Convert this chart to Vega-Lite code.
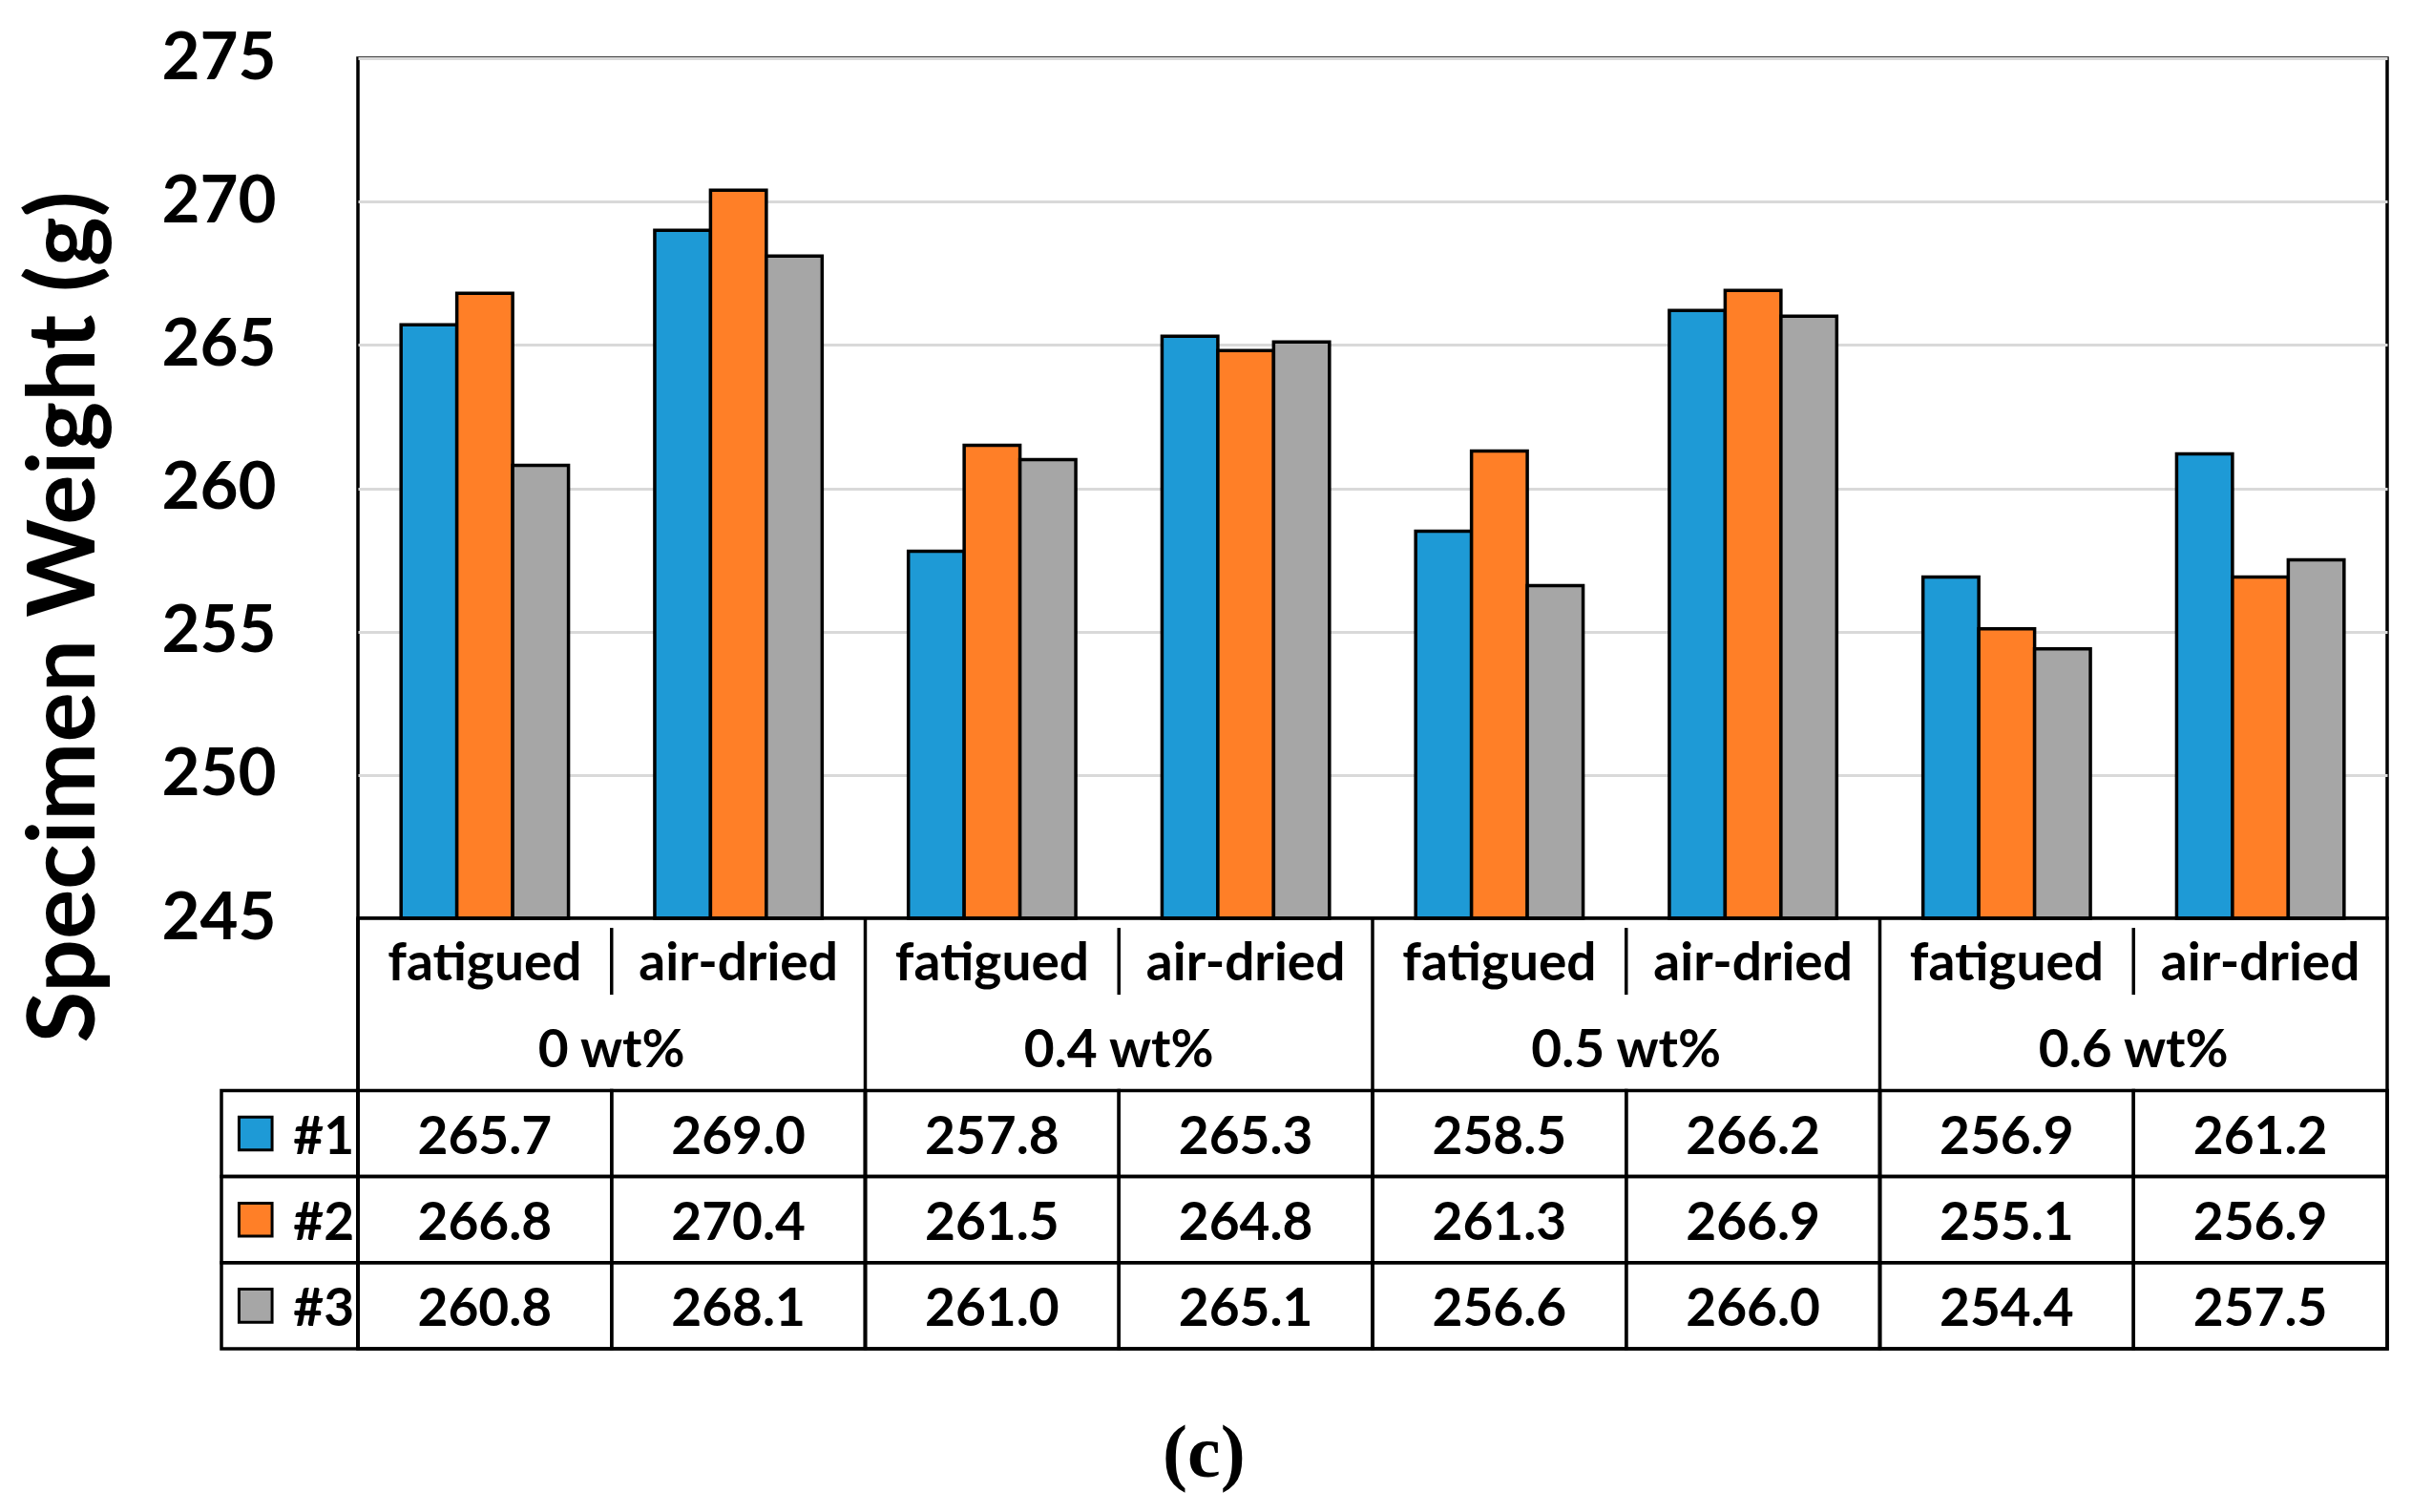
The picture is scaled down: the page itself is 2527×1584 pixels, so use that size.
{
  "$schema": "https://vega.github.io/schema/vega-lite/v6.json",
  "background": "white",
  "padding": {"left": 18, "top": 25, "right": 17, "bottom": 20},
  "config": {
    "font": "Lato",
    "view": {"stroke": "black", "strokeWidth": 3.5}
  },
  "datasets": {
    "w": [
      {"grp": "0 wt%", "cond": "fatigued", "col": "0 wt% fatigued", "s": "#1", "w": 265.7},
      {"grp": "0 wt%", "cond": "fatigued", "col": "0 wt% fatigued", "s": "#2", "w": 266.8},
      {"grp": "0 wt%", "cond": "fatigued", "col": "0 wt% fatigued", "s": "#3", "w": 260.8},
      {"grp": "0 wt%", "cond": "air-dried", "col": "0 wt% air-dried", "s": "#1", "w": 269.0},
      {"grp": "0 wt%", "cond": "air-dried", "col": "0 wt% air-dried", "s": "#2", "w": 270.4},
      {"grp": "0 wt%", "cond": "air-dried", "col": "0 wt% air-dried", "s": "#3", "w": 268.1},
      {"grp": "0.4 wt%", "cond": "fatigued", "col": "0.4 wt% fatigued", "s": "#1", "w": 257.8},
      {"grp": "0.4 wt%", "cond": "fatigued", "col": "0.4 wt% fatigued", "s": "#2", "w": 261.5},
      {"grp": "0.4 wt%", "cond": "fatigued", "col": "0.4 wt% fatigued", "s": "#3", "w": 261.0},
      {"grp": "0.4 wt%", "cond": "air-dried", "col": "0.4 wt% air-dried", "s": "#1", "w": 265.3},
      {"grp": "0.4 wt%", "cond": "air-dried", "col": "0.4 wt% air-dried", "s": "#2", "w": 264.8},
      {"grp": "0.4 wt%", "cond": "air-dried", "col": "0.4 wt% air-dried", "s": "#3", "w": 265.1},
      {"grp": "0.5 wt%", "cond": "fatigued", "col": "0.5 wt% fatigued", "s": "#1", "w": 258.5},
      {"grp": "0.5 wt%", "cond": "fatigued", "col": "0.5 wt% fatigued", "s": "#2", "w": 261.3},
      {"grp": "0.5 wt%", "cond": "fatigued", "col": "0.5 wt% fatigued", "s": "#3", "w": 256.6},
      {"grp": "0.5 wt%", "cond": "air-dried", "col": "0.5 wt% air-dried", "s": "#1", "w": 266.2},
      {"grp": "0.5 wt%", "cond": "air-dried", "col": "0.5 wt% air-dried", "s": "#2", "w": 266.9},
      {"grp": "0.5 wt%", "cond": "air-dried", "col": "0.5 wt% air-dried", "s": "#3", "w": 266.0},
      {"grp": "0.6 wt%", "cond": "fatigued", "col": "0.6 wt% fatigued", "s": "#1", "w": 256.9},
      {"grp": "0.6 wt%", "cond": "fatigued", "col": "0.6 wt% fatigued", "s": "#2", "w": 255.1},
      {"grp": "0.6 wt%", "cond": "fatigued", "col": "0.6 wt% fatigued", "s": "#3", "w": 254.4},
      {"grp": "0.6 wt%", "cond": "air-dried", "col": "0.6 wt% air-dried", "s": "#1", "w": 261.2},
      {"grp": "0.6 wt%", "cond": "air-dried", "col": "0.6 wt% air-dried", "s": "#2", "w": 256.9},
      {"grp": "0.6 wt%", "cond": "air-dried", "col": "0.6 wt% air-dried", "s": "#3", "w": 257.5}
    ],
    "specs": [{"s": "#1"}, {"s": "#2"}, {"s": "#3"}]
  },
  "title": {
    "text": "(c)",
    "orient": "bottom",
    "anchor": "middle",
    "font": "Liberation Serif",
    "fontSize": 78,
    "fontWeight": "bold",
    "color": "black",
    "offset": 68
  },
  "bounds": "flush",
  "spacing": 0,
  "vconcat": [
    {
      "width": 2126,
      "height": 901,
      "data": {"name": "w"},
      "mark": {"type": "bar", "stroke": "black", "strokeWidth": 3.5},
      "encoding": {
        "x": {
          "field": "col", "type": "nominal",
          "scale": {
            "domain": ["0 wt% fatigued", "0 wt% air-dried", "0.4 wt% fatigued", "0.4 wt% air-dried", "0.5 wt% fatigued", "0.5 wt% air-dried", "0.6 wt% fatigued", "0.6 wt% air-dried"],
            "paddingInner": 0.34, "paddingOuter": 0.17
          },
          "axis": null
        },
        "xOffset": {
          "field": "s", "type": "nominal",
          "scale": {"domain": ["#1", "#2", "#3"], "range": [0, 175.4], "paddingInner": 0, "paddingOuter": 0}
        },
        "y": {
          "field": "w", "type": "quantitative",
          "scale": {"domain": [245, 275], "zero": false, "nice": false},
          "axis": {
            "title": "Specimen Weight (g)",
            "values": [245, 250, 255, 260, 265, 270, 275],
            "grid": true, "gridColor": "#D9D9D9", "gridWidth": 3,
            "domain": false, "ticks": false, "tickSize": 0,
            "labelPadding": 86, "labelFlush": false, "labelOverlap": false, "labelBound": false,
            "labelFont": "Lato", "labelFontSize": 69, "labelFontWeight": "bold", "labelColor": "black",
            "titleFont": "Lato", "titleFontSize": 98, "titleFontWeight": "bold", "titleColor": "black",
            "titlePadding": 56, "titleY": 585
          }
        },
        "y2": {"datum": 245},
        "color": {
          "field": "s", "type": "nominal",
          "scale": {"domain": ["#1", "#2", "#3"], "range": ["#1E9AD6", "#FF7F27", "#A6A6A6"]},
          "legend": null
        }
      }
    },
    {
      "width": 2126,
      "height": 451,
      "resolve": {"scale": {"x": "independent"}},
      "layer": [
        {
          "data": {"name": "w"},
          "encoding": {
            "x": {
              "field": "col", "type": "nominal",
              "scale": {
                "domain": ["0 wt% fatigued", "0 wt% air-dried", "0.4 wt% fatigued", "0.4 wt% air-dried", "0.5 wt% fatigued", "0.5 wt% air-dried", "0.6 wt% fatigued", "0.6 wt% air-dried"],
                "paddingInner": 0, "paddingOuter": 0
              },
              "axis": null
            }
          },
          "layer": [
            {
              "mark": {"type": "rect", "fill": "transparent", "stroke": "black", "strokeWidth": 3.5},
              "encoding": {
                "y": {"field": "s", "type": "nominal", "scale": {"domain": ["cat", "grp", "#1", "#2", "#3"], "paddingInner": 0, "paddingOuter": 0}, "axis": null}
              }
            },
            {
              "transform": [{"filter": "datum.s == '#1' && datum.cond == 'fatigued'"}],
              "mark": {"type": "rule", "stroke": "black", "strokeWidth": 3.5},
              "encoding": {
                "x": {"field": "col", "type": "nominal", "bandPosition": 0}
              }
            },
            {
              "transform": [{"filter": "datum.s == '#1' && datum.cond == 'air-dried'"}],
              "mark": {"type": "tick", "orient": "vertical", "color": "black", "thickness": 3.5, "size": 70, "opacity": 1},
              "encoding": {
                "x": {"field": "col", "type": "nominal", "bandPosition": 0},
                "y": {"datum": "cat", "type": "nominal", "bandPosition": 0.386}
              }
            },
            {
              "mark": {"type": "text", "fontSize": 55, "fontWeight": "bold", "color": "black", "dy": 4},
              "encoding": {
                "y": {"field": "s", "type": "nominal"},
                "text": {"field": "w", "type": "quantitative", "format": ".1f"}
              }
            },
            {
              "transform": [{"filter": "datum.s == '#1'"}],
              "mark": {"type": "text", "fontSize": 55, "fontWeight": "bold", "color": "black", "dy": 3},
              "encoding": {
                "y": {"datum": "cat", "type": "nominal"},
                "text": {"field": "cond", "type": "nominal"}
              }
            },
            {
              "transform": [{"filter": "datum.s == '#1' && datum.cond == 'fatigued'"}],
              "mark": {"type": "text", "fontSize": 55, "fontWeight": "bold", "color": "black", "dy": 4},
              "encoding": {
                "x": {"field": "col", "type": "nominal", "bandPosition": 1},
                "y": {"datum": "grp", "type": "nominal"},
                "text": {"field": "grp", "type": "nominal"}
              }
            }
          ]
        },
        {
          "data": {"name": "specs"},
          "encoding": {
            "y": {"field": "s", "type": "nominal"}
          },
          "layer": [
            {
              "mark": {"type": "rect", "fill": "transparent", "stroke": "black", "strokeWidth": 3.5},
              "encoding": {
                "x": {
                  "datum": "legend", "type": "nominal",
                  "scale": {"domain": ["legend"], "range": [-143, 0], "paddingInner": 0, "paddingOuter": 0},
                  "axis": null
                }
              }
            },
            {
              "mark": {"type": "square", "size": 1200, "stroke": "black", "strokeWidth": 3, "opacity": 1, "filled": true},
              "encoding": {
                "x": {"datum": "legend", "type": "nominal", "bandPosition": 0.25},
                "color": {
                  "field": "s", "type": "nominal",
                  "scale": {"domain": ["#1", "#2", "#3"], "range": ["#1E9AD6", "#FF7F27", "#A6A6A6"]},
                  "legend": null
                }
              }
            },
            {
              "mark": {"type": "text", "fontSize": 55, "fontWeight": "bold", "color": "black", "dy": 4},
              "encoding": {
                "x": {"datum": "legend", "type": "nominal", "bandPosition": 0.75},
                "text": {"field": "s", "type": "nominal"}
              }
            }
          ]
        }
      ]
    }
  ]
}
